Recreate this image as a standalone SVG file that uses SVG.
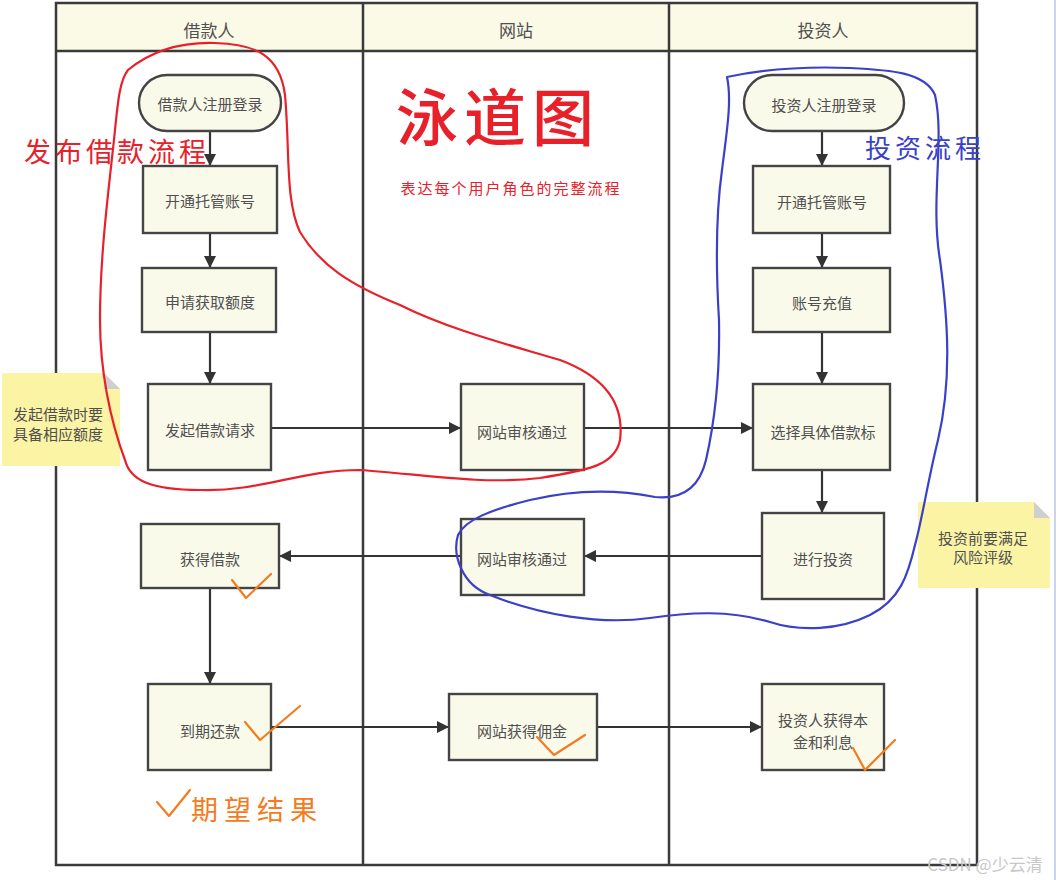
<svg xmlns="http://www.w3.org/2000/svg" width="1058" height="880" viewBox="0 0 1058 880">
<defs>
<style>
.box{fill:#fafaea;stroke:#444;stroke-width:2.4}
.t{font-family:"Noto Sans CJK SC","Noto Sans",sans-serif;font-size:15px;fill:#505050;text-anchor:middle;dominant-baseline:central}
.h{font-family:"Noto Sans CJK SC","Noto Sans",sans-serif;font-size:17px;fill:#505050;text-anchor:middle;dominant-baseline:central}
.ln{stroke:#3a3a3a;stroke-width:2.5;fill:none}
.con{stroke:#333;stroke-width:2.2;fill:none;marker-end:url(#ah)}
.note{fill:#fbf4a4}
.fold{fill:#cfcfcf}
.hand{fill:none;stroke-width:2.2;stroke-linecap:round;stroke-linejoin:round}
.chk{fill:none;stroke:#f47b20;stroke-width:2.2;stroke-linecap:round;stroke-linejoin:round}
.ann{font-family:"Noto Sans CJK SC",sans-serif;text-anchor:middle;dominant-baseline:central}
</style>
<marker id="ah" viewBox="0 0 10 10" refX="10" refY="5" markerWidth="13" markerHeight="12" markerUnits="userSpaceOnUse" orient="auto">
<path d="M0,0 L10,5 L0,10 z" fill="#333"/>
</marker>
</defs>
<rect x="0" y="0" width="1058" height="880" fill="#ffffff"/>
<line x1="1055" y1="0" x2="1055" y2="880" stroke="#c9d4ee" stroke-width="2"/>

<g id="lanes">
<rect x="56" y="3" width="921" height="48" fill="#fafae6" stroke="none"/>
<rect x="56" y="3" width="921" height="862" class="ln"/>
<line x1="56" y1="51" x2="977" y2="51" class="ln"/>
<line x1="363" y1="3" x2="363" y2="865" class="ln"/>
<line x1="669" y1="3" x2="669" y2="865" class="ln"/>
<text x="209" y="29" class="h">借款人</text>
<text x="516" y="29" class="h">网站</text>
<text x="823" y="29" class="h">投资人</text>
</g>

<g id="connectors">
<line x1="210" y1="131" x2="210" y2="166" class="con"/>
<line x1="210" y1="233" x2="210" y2="268" class="con"/>
<line x1="210" y1="332" x2="210" y2="384" class="con"/>
<line x1="210" y1="588" x2="210" y2="684" class="con"/>
<line x1="822" y1="131" x2="822" y2="166" class="con"/>
<line x1="822" y1="233" x2="822" y2="268" class="con"/>
<line x1="822" y1="332" x2="822" y2="384" class="con"/>
<line x1="822" y1="470" x2="822" y2="513" class="con"/>
<line x1="271" y1="428" x2="461" y2="428" class="con"/>
<line x1="584" y1="428" x2="753" y2="428" class="con"/>
<line x1="762" y1="556" x2="584" y2="556" class="con"/>
<line x1="461" y1="556" x2="279" y2="556" class="con"/>
<line x1="271" y1="727" x2="449" y2="727" class="con"/>
<line x1="597" y1="727" x2="762" y2="727" class="con"/>
</g>

<g id="n_b_reg"><rect x="139" y="75" width="142" height="56" rx="28" class="box"/><text x="210" y="103" class="t">借款人注册登录</text></g>
<g id="n_b_acct"><rect x="143" y="166" width="134" height="67" class="box"/><text x="210" y="200" class="t">开通托管账号</text></g>
<g id="n_b_quota"><rect x="142" y="268" width="134" height="64" class="box"/><text x="210" y="301" class="t">申请获取额度</text></g>
<g id="n_b_req"><rect x="148" y="384" width="123" height="86" class="box"/><text x="210" y="429" class="t">发起借款请求</text></g>
<g id="n_b_get"><rect x="141" y="524" width="138" height="64" class="box"/><text x="210" y="558" class="t">获得借款</text></g>
<g id="n_b_repay"><rect x="148" y="684" width="123" height="86" class="box"/><text x="210" y="730" class="t">到期还款</text></g>

<g id="n_w_audit1"><rect x="461" y="384" width="123" height="86" class="box"/><text x="522" y="431" class="t">网站审核通过</text></g>
<g id="n_w_audit2"><rect x="461" y="519" width="123" height="76" class="box"/><text x="522" y="558" class="t">网站审核通过</text></g>
<g id="n_w_fee"><rect x="449" y="694" width="148" height="66" class="box"/><text x="522" y="730" class="t">网站获得佣金</text></g>

<g id="n_i_reg"><rect x="744" y="75" width="160" height="56" rx="28" class="box"/><text x="824" y="104" class="t">投资人注册登录</text></g>
<g id="n_i_acct"><rect x="753" y="166" width="137" height="67" class="box"/><text x="822" y="201" class="t">开通托管账号</text></g>
<g id="n_i_charge"><rect x="753" y="268" width="137" height="64" class="box"/><text x="822" y="302" class="t">账号充值</text></g>
<g id="n_i_pick"><rect x="753" y="384" width="137" height="86" class="box"/><text x="823" y="431" class="t">选择具体借款标</text></g>
<g id="n_i_invest"><rect x="762" y="513" width="122" height="86" class="box"/><text x="823" y="558" class="t">进行投资</text></g>
<g id="n_i_gain"><rect x="762" y="684" width="122" height="86" class="box"/><text x="823" y="719" class="t">投资人获得本</text><text x="823" y="741" class="t">金和利息</text></g>

<g id="note_left">
<path d="M2,373 H104 L120,389 V466 H2 Z" class="note"/>
<path d="M104,373 L120,389 H104 Z" class="fold"/>
<text x="58" y="413" class="t">发起借款时要</text>
<text x="58" y="433" class="t">具备相应额度</text>
</g>
<g id="note_right">
<path d="M918,502 H1034 L1050,518 V588 H918 Z" class="note"/>
<path d="M1034,502 L1050,518 H1034 Z" class="fold"/>
<text x="983" y="537" class="t">投资前要满足</text>
<text x="983" y="556" class="t">风险评级</text>
</g>

<g id="annotations">
<path class="hand" stroke="#e8202a" d="M128,70 C150,52 180,42 215,43 C255,44 280,55 285,95 C290,150 285,200 300,232 C320,265 350,285 400,305 C450,330 510,345 560,360 C600,375 625,400 620,440 C615,465 590,470 540,478 C480,485 420,474 360,470 C300,470 260,492 200,490 C150,490 130,480 125,460 C110,420 100,370 100,320 C100,250 110,180 115,130 C118,100 120,80 128,70"/>
<path class="hand" stroke="#3a40c8" d="M727,77 C760,70 800,66 850,68 C890,70 925,72 935,95 C945,140 930,200 940,260 C948,320 952,380 938,440 C928,480 922,520 915,545 C908,575 900,600 870,615 C840,630 800,632 770,622 C730,610 690,612 650,618 C600,625 540,615 490,595 C462,585 452,555 458,535 C465,520 490,510 530,500 C580,488 620,490 655,497 C685,500 700,485 706,460 C715,420 720,370 719,320 C716,270 715,220 722,170 C727,130 732,100 727,77"/>
<text x="498" y="114" class="ann" font-size="62" font-weight="500" fill="#e8202a" letter-spacing="6">泳道图</text>
<text x="511" y="187" class="ann" font-size="15" fill="#e8202a" letter-spacing="2">表达每个用户角色的完整流程</text>
<text x="117" y="150" class="ann" font-size="27" fill="#e8202a" letter-spacing="4">发布借款流程</text>
<text x="925" y="146" class="ann" font-size="26" fill="#3a40c8" letter-spacing="4">投资流程</text>
<text x="257" y="808" class="ann" font-size="27" fill="#f47b20" letter-spacing="6">期望结果</text>
<path class="chk" d="M232,580 L246,598 L271,574"/>
<path class="chk" d="M245,722 L260,740 L300,706"/>
<path class="chk" d="M537,737 L554,755 L585,735"/>
<path class="chk" d="M853,748 L865,770 L895,740"/>
<path class="chk" d="M157,802 L169,816 L190,790"/>
</g>
<text x="985" y="863" font-family="'Noto Sans CJK SC',sans-serif" font-size="17" fill="#c8c8c8" text-anchor="middle" dominant-baseline="central">CSDN @少云清</text>
</svg>
